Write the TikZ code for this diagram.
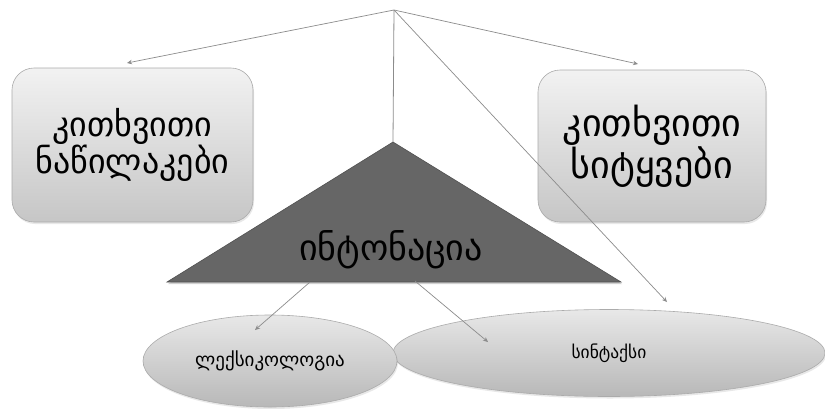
\documentclass[tikz,border=0pt]{standalone}
\usepackage{fontspec}
\newfontfamily\geo{DejaVu Sans}
\usetikzlibrary{shapes.geometric,arrows.meta,shadows,calc}
\definecolor{linegray}{HTML}{8C8C8C}
\definecolor{boxline}{HTML}{ABABAB}
\definecolor{boxtop}{HTML}{F2F2F2}
\definecolor{boxbot}{HTML}{C6C6C6}
\definecolor{elltop}{HTML}{E8E8E8}
\definecolor{ellbot}{HTML}{B8B8B8}
\definecolor{tri}{HTML}{666666}
\definecolor{triline}{HTML}{505050}
\begin{document}
\begin{tikzpicture}[x=1pt,y=-1pt,
  arr/.style={draw=linegray, line width=0.7pt, -{Stealth[length=5pt,width=4.5pt]}},
  plain/.style={draw=linegray, line width=0.8pt},
  gbox/.style={rectangle, rounded corners=22pt, draw=boxline, line width=0.6pt,
    top color=boxtop, bottom color=boxbot, align=center, inner sep=0pt,
    drop shadow={opacity=0.18, shadow xshift=1pt, shadow yshift=-2pt}},
  gell/.style={ellipse, draw=boxline, line width=0.6pt, top color=elltop,
    bottom color=ellbot, inner sep=0pt,
    drop shadow={opacity=0.18, shadow xshift=1pt, shadow yshift=-2pt}},
  lbl/.style={inner sep=0pt}]
\useasboundingbox[fill=white] (0,0) rectangle (825,408);
% boxes
\node[gbox, minimum width=241pt, minimum height=154pt,
  font=\geo\fontsize{34}{32}\selectfont] (lbox) at (132.5,145)
  {კითხვითი\\ნაწილაკები};
\node[gbox, minimum width=228pt, minimum height=152pt,
  font=\geo\fontsize{38}{36}\selectfont] (rbox) at (652,146)
  {კითხვითი\\სიტყვები};
% ellipses
\node[gell, minimum width=432pt, minimum height=87pt,
  font=\geo\fontsize{17.5}{19}\selectfont] (syn) at (609,353) {სინტაქსი};
\node[gell, minimum width=254pt, minimum height=92pt,
  font=\geo\fontsize{19}{21}\selectfont] (lex) at (270,361) {ლექსიკოლოგია};
% triangle
\coordinate (apex) at (393,142);
\coordinate (tl) at (167,282);
\coordinate (tr) at (621,282);
\fill[black, opacity=0.18] ($(apex)+(1,2)$) -- ($(tl)+(1,2)$) -- ($(tr)+(1,2)$) -- cycle;
\draw[triline, fill=tri, line width=0.6pt] (apex) -- (tl) -- (tr) -- cycle;
\node[lbl, font=\geo\fontsize{36}{38}\selectfont] (into) at (391,250) {ინტონაცია};
% connectors
\coordinate (top) at (394,10);
\coordinate (lend) at (127,63);
\coordinate (rend) at (638,64);
\coordinate (send) at (667,302);
\coordinate (b1) at (310,282);
\coordinate (b2) at (415,281);
\coordinate (e1) at (255,330);
\coordinate (e2) at (488,342);
\draw[plain] (top) -- (apex);
\draw[arr] (top) -- (lend);
\draw[arr] (top) -- (rend);
\draw[arr] (top) -- (send);
\draw[arr] (b1) -- (e1);
\draw[arr] (b2) -- (e2);
\end{tikzpicture}
\end{document}
